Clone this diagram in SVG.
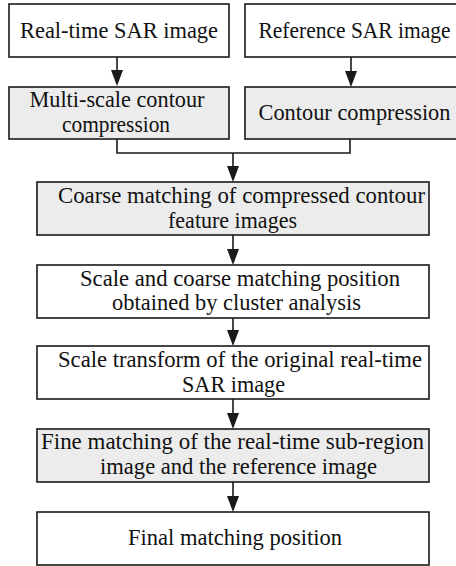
<svg xmlns="http://www.w3.org/2000/svg" width="456" height="566" viewBox="0 0 456 566">
<defs>
<style>
.box{fill:#ffffff;stroke:#1a1a1a;stroke-width:1.6}
.gray{fill:#ececec}
text{font-family:"Liberation Serif","Times New Roman",serif;font-size:23.5px;fill:#111111;text-anchor:middle}
.conn{fill:none;stroke:#1a1a1a;stroke-width:1.6}
.head{fill:#1a1a1a}
</style>
</defs>
<rect width="456" height="566" fill="#ffffff"/>
<g id="n1"><rect class="box" x="9" y="4" width="220" height="53"/><text x="119" y="38" textLength="198" lengthAdjust="spacingAndGlyphs">Real-time SAR image</text></g>
<g id="n2"><rect class="box" x="245" y="4" width="220" height="53"/><text x="354.5" y="38" textLength="192" lengthAdjust="spacingAndGlyphs">Reference SAR image</text></g>
<g id="n3"><rect class="box gray" x="9" y="87" width="220" height="52"/><text x="117" y="107" textLength="175" lengthAdjust="spacingAndGlyphs">Multi-scale contour</text><text x="116" y="132" textLength="108" lengthAdjust="spacingAndGlyphs">compression</text></g>
<g id="n4"><rect class="box gray" x="245" y="87" width="220" height="52"/><text x="354.5" y="120" textLength="192" lengthAdjust="spacingAndGlyphs">Contour compression</text></g>
<g id="n5"><rect class="box gray" x="37" y="182" width="392" height="53"/><text x="241.5" y="203" textLength="367" lengthAdjust="spacingAndGlyphs">Coarse matching of compressed contour</text><text x="232.5" y="228" textLength="129" lengthAdjust="spacingAndGlyphs">feature images</text></g>
<g id="n6"><rect class="box" x="37" y="265" width="392" height="53"/><text x="240" y="286" textLength="320" lengthAdjust="spacingAndGlyphs">Scale and coarse matching position</text><text x="236.5" y="310" textLength="249" lengthAdjust="spacingAndGlyphs">obtained by cluster analysis</text></g>
<g id="n7"><rect class="box" x="37" y="346" width="392" height="53"/><text x="240" y="367" textLength="364" lengthAdjust="spacingAndGlyphs">Scale transform of the original real-time</text><text x="233.5" y="392" textLength="103" lengthAdjust="spacingAndGlyphs">SAR image</text></g>
<g id="n8"><rect class="box gray" x="37" y="429" width="392" height="53"/><text x="232.5" y="449" textLength="383" lengthAdjust="spacingAndGlyphs">Fine matching of the real-time sub-region</text><text x="238.5" y="474" textLength="277" lengthAdjust="spacingAndGlyphs">image and the reference image</text></g>
<g id="n9"><rect class="box" x="37" y="512" width="392" height="53"/><text x="235" y="545" textLength="214" lengthAdjust="spacingAndGlyphs">Final matching position</text></g>
<g id="connectors">
<path class="conn" d="M117,57 V72"/><path class="head" d="M111,70 L123,70 L117,86 Z"/>
<path class="conn" d="M351,57 V72"/><path class="head" d="M345,71 L357,71 L351,87 Z"/>
<path class="conn" d="M117,139 V153 H350 V139"/>
<path class="conn" d="M233,153 V168"/><path class="head" d="M227,166 L239,166 L233,182 Z"/>
<path class="conn" d="M233,235 V250"/><path class="head" d="M227,249 L239,249 L233,265 Z"/>
<path class="conn" d="M233,318 V332"/><path class="head" d="M227,330 L239,330 L233,346 Z"/>
<path class="conn" d="M233,399 V415"/><path class="head" d="M227,413 L239,413 L233,429 Z"/>
<path class="conn" d="M233,482 V498"/><path class="head" d="M227,496 L239,496 L233,512 Z"/>
</g>
</svg>
